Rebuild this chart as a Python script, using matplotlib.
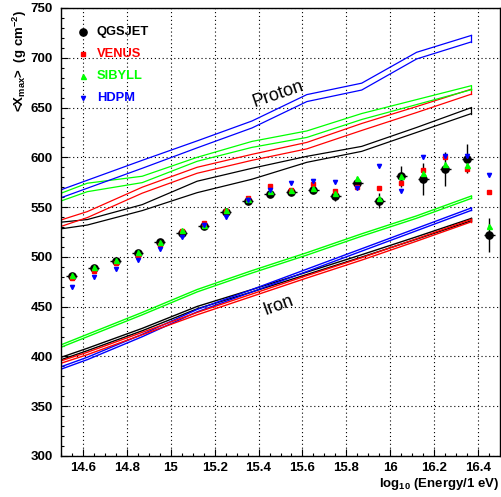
import matplotlib
matplotlib.use("Agg")
import matplotlib.pyplot as plt

plt.rcParams['font.family'] = ['Liberation Sans', 'DejaVu Sans']
plt.rcParams['mathtext.fontset'] = 'custom'
plt.rcParams['mathtext.rm'] = 'Liberation Sans:bold'
plt.rcParams['mathtext.bf'] = 'Liberation Sans:bold'
plt.rcParams['mathtext.it'] = 'Liberation Sans:bold'
plt.rcParams['mathtext.default'] = 'bf'

# measured <Xmax> points (one set per interaction model)
energy = [14.55, 14.65, 14.75, 14.85, 14.95, 15.05, 15.15, 15.25, 15.35, 15.45,
          15.55, 15.65, 15.75, 15.85, 15.95, 16.05, 16.15, 16.25, 16.35, 16.45]
qgsjet = [481, 489, 496, 504, 514.5, 524, 531, 544.7, 556.4, 563.5,
          565.5, 567, 561, 574.5, 556.5, 581, 578, 588, 598.5, 522]
qgsjet_err = [1, 1, 1, 1, 1, 1, 1.5, 2, 2, 2.5,
              2.5, 3, 4.5, 6, 7.5, 10.5, 16, 17, 14.5, 17.5]
venus = [478.5, 486, 493.5, 501, 512, 526, 534.3, 546.4, 558.8, 571.5,
         567, 573, 566.5, 570, 569.5, 574.5, 587, 600.6, 588, 565.5]
sibyll = [482, 490, 497, 505, 515.3, 527, 532, 547.5, 557.8, 566,
          567.5, 569.5, 564, 579.5, 559, 581, 584, 593, 592, 531]
hdpm = [470, 480, 487.5, 497, 507.6, 519.6, 532, 539.7, 557, 567.2,
        574, 575.8, 575, 569, 591, 566, 600, 601.5, 601, 582]

# simulated bands (upper / lower edge) at the simulation energies
sim_energy = [14.37, 14.62, 14.87, 15.12, 15.37, 15.62, 15.87, 16.12, 16.37]

p_qgsjet_hi = [532, 537.5, 552.5, 576, 589, 601, 611, 630, 650]
p_qgsjet_lo = [524, 532, 546.5, 564.5, 578, 595, 606, 625, 644]
p_venus_hi = [528, 545.5, 570, 590, 603, 615, 634, 651, 668.5]
p_venus_lo = [521, 539.5, 564, 584, 597, 608.5, 627, 645, 663.5]
p_sibyll_hi = [553, 574, 581, 600, 616, 626.5, 644, 658, 672]
p_sibyll_lo = [546, 565.5, 574.6, 596, 610, 620, 638, 653, 668]
p_hdpm_hi = [557, 577, 597, 616.5, 636.5, 663, 674.5, 705.5, 722.5]
p_hdpm_lo = [549, 569, 589, 609.5, 629.5, 656, 667.6, 698.8, 716]

fe_qgsjet = [388, 407, 427, 449, 466, 483.5, 501, 519, 537.5]
fe_venus = [385, 403, 423, 443, 461.5, 480, 498, 517, 536.5]
fe_sibyll = [399, 421, 443, 466, 485, 503, 522, 540, 560]
fe_hdpm = [378, 398, 421, 446, 466, 486.5, 507, 527.5, 548]
fe_halfwidth = 1.2

models = ['QGSJET', 'VENUS', 'SIBYLL', 'HDPM']
colors = ['black', '#ff0000', '#00ff00', '#0000ff']
markers = ['o', 's', '^', 'v']
msizes = [5.2, 3.0, 3.6, 3.0]

fig = plt.figure(figsize=(5.01, 4.97), dpi=100)
ax = fig.add_axes([61 / 501, 41 / 497, 439 / 501, 448 / 497])


def band(x, hi, lo, color, lw=0.9):
    ax.plot(x, hi, color=color, lw=lw)
    ax.plot(x, lo, color=color, lw=lw)
    ax.plot([x[-1], x[-1]], [lo[-1], hi[-1]], color=color, lw=lw)


band(sim_energy, p_qgsjet_hi, p_qgsjet_lo, colors[0])
band(sim_energy, p_venus_hi, p_venus_lo, colors[1])
band(sim_energy, p_sibyll_hi, p_sibyll_lo, colors[2])
band(sim_energy, p_hdpm_hi, p_hdpm_lo, colors[3])

for vals, c in [(fe_sibyll, colors[2]), (fe_qgsjet, colors[0]),
                (fe_hdpm, colors[3]), (fe_venus, colors[1])]:
    band(sim_energy, [v + fe_halfwidth for v in vals],
         [v - fe_halfwidth for v in vals], c, lw=1.0)

# data points
ax.errorbar(energy, qgsjet, yerr=qgsjet_err, xerr=0.025, fmt='o', color='black',
            ms=msizes[0], elinewidth=1.0, capsize=0, zorder=5)
for vals, c, m, s in zip([venus, sibyll, hdpm], colors[1:], markers[1:], msizes[1:]):
    ax.plot(energy, vals, ls='none', marker=m, color=c, ms=s, zorder=6)

ax.text(15.49, 663.6, 'Proton', rotation=19, fontsize=13, ha='center', va='center')
ax.text(15.49, 450.7, 'Iron', rotation=20, fontsize=13, ha='center', va='center')

# legend drawn by hand
leg_y = [0.946, 0.897, 0.848, 0.799]
for name, c, m, s, y in zip(models, colors, markers, msizes, leg_y):
    ax.plot([0.05], [y], marker=m, color=c, ms=s, transform=ax.transAxes,
            clip_on=False)
    ax.text(0.082, y, name, color=c, fontsize=9.3, fontweight='bold',
            transform=ax.transAxes, va='center', ha='left')

ax.set_xlim(14.5, 16.5)
ax.set_ylim(300, 750)
ax.set_xticks([14.6, 14.8, 15.0, 15.2, 15.4, 15.6, 15.8, 16.0, 16.2, 16.4])
ax.set_xticklabels(['14.6', '14.8', '15', '15.2', '15.4', '15.6', '15.8', '16', '16.2', '16.4'])
ax.set_xticks([14.5 + 0.05 * i for i in range(41)], minor=True)
ax.set_yticks(range(300, 751, 50))
ax.set_yticks(range(300, 751, 10), minor=True)
ax.grid(True, which='major', color='black', ls=(0, (1, 2.5)), lw=0.8)
ax.tick_params(which='both', direction='in', top=False, right=False, width=0.8)
ax.tick_params(which='major', length=5)
ax.tick_params(which='minor', length=2.5)
ax.tick_params(axis='y', pad=6)
ax.tick_params(axis='x', pad=4)
for lab in ax.get_xticklabels() + ax.get_yticklabels():
    lab.set_fontweight('bold')
    lab.set_fontsize(9.5)
for sp in ax.spines.values():
    sp.set_linewidth(1.0)

fig.text(20 / 501, 1 - 10 / 497, r'<X$_{max}$>  (g cm$^{-2}$)', rotation=90,
         ha='center', va='top', fontsize=9.5, fontweight='bold')
fig.text(499 / 501, 1 - 484 / 497, r'log$_{10}$ (Energy/1 eV)', ha='right',
         va='center', fontsize=9.5, fontweight='bold')

fig.savefig('out.png', dpi=100)
